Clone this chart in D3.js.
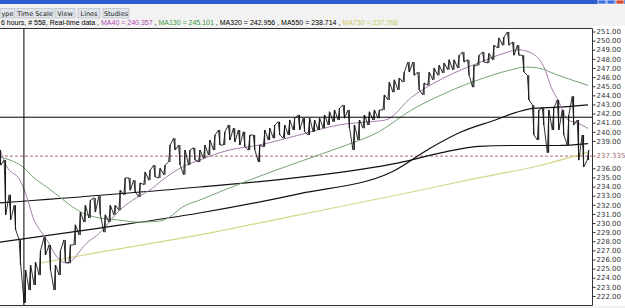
<!DOCTYPE html>
<html>
<head>
<meta charset="utf-8">
<script src="https://cdn.jsdelivr.net/npm/d3@7"></script>
<style>
  body { margin: 0; background: #fff; }
  svg { display: block; font-family: "DejaVu Sans", sans-serif; }
</style>
</head>
<body>
<div id="chart"></div>
<script>
// price bars, one sample every 5px of chart width (high / low)
const hi = [238.0, 236.9, 233.1, 231.95, 228.15, 224.85, 225.4, 225.7, 227.0, 228.45,
  227.6, 225.4, 227.0, 228.15, 227.6, 229.8, 231.2, 231.95, 232.5, 232.75,
  232.95, 230.9, 231.95, 231.95, 233.6, 234.95, 234.95, 234.7, 234.4, 235.6,
  235.8, 236.35, 236.0, 236.35, 238.55, 239.3, 238.55, 238.0, 238.0, 238.25,
  238.0, 238.55, 239.1, 239.65, 240.2, 240.0, 240.75, 240.4, 240.2, 240.0,
  239.65, 239.65, 238.55, 240.2, 240.4, 240.75, 241.1, 240.75, 241.3, 241.5,
  241.85, 241.5, 241.5, 241.3, 241.5, 241.85, 242.2, 242.4, 242.6, 242.95,
  242.4, 240.75, 241.3, 241.85, 242.2, 242.4, 242.4, 244.05, 245.45, 245.7,
  245.9, 246.55, 247.65, 247.65, 246.55, 245.35, 246.55, 247.0, 247.3, 247.55,
  247.9, 247.9, 248.4, 248.75, 247.9, 247.3, 248.4, 248.75, 248.6, 249.5,
  250.3, 250.4, 250.95, 249.85, 249.5, 248.4, 246.2, 242.95, 242.4, 242.6,
  242.4, 242.6, 243.5, 242.4, 241.85, 243.9, 241.3, 239.65, 238.0]
const lo = [236.35, 230.9, 230.35, 229.25, 225.4, 221.25, 222.65, 223.2, 224.3, 226.5,
  224.85, 222.65, 224.3, 225.7, 225.6, 227.6, 228.7, 230.1, 230.55, 231.2,
  230.9, 229.0, 230.1, 230.9, 231.4, 233.1, 233.6, 233.4, 232.85, 234.2,
  234.7, 235.05, 234.95, 235.3, 236.7, 238.0, 236.35, 235.3, 236.35, 236.9,
  236.7, 237.1, 237.45, 238.0, 238.55, 238.55, 239.1, 238.9, 238.55, 238.35,
  238.0, 238.0, 236.7, 238.35, 239.1, 239.3, 239.65, 239.3, 239.65, 240.2,
  240.2, 240.0, 239.65, 240.0, 240.2, 240.4, 240.75, 241.1, 241.3, 241.5,
  240.4, 238.0, 239.1, 240.4, 240.75, 241.3, 241.5, 242.4, 243.5, 244.35,
  244.6, 245.45, 246.55, 246.2, 244.6, 244.05, 245.1, 245.7, 246.2, 246.45,
  246.8, 246.8, 247.0, 247.65, 246.2, 244.9, 247.3, 247.65, 247.55, 247.9,
  249.2, 249.5, 249.5, 248.4, 248.4, 246.55, 243.5, 239.65, 239.1, 240.75,
  237.7, 240.2, 240.2, 239.65, 238.55, 240.75, 236.9, 236.15, 236.9]

// moving averages: position in bar samples, value
const ma40T = [0, 1.4, 4, 5.6, 6.6, 8, 9.4, 11.4, 13.4, 17.4, 20, 24, 26.6, 30, 33.4, 36.6, 40, 46, 52, 60, 68, 74, 77.4, 82.6, 89.4, 96, 101.4, 104, 106.6, 109.4, 110.6, 112, 114, 116, 118]
const ma40V = [238.0, 236.15, 234.7, 232.5, 230.65, 229.25, 228.15, 226.3, 225.6, 227.8, 228.9, 231.4, 232.5, 233.6, 235.05, 236.15, 236.9, 238.0, 238.55, 239.65, 240.75, 241.1, 241.3, 243.8, 246.0, 247.55, 248.65, 249.0, 248.65, 246.8, 244.9, 243.5, 241.3, 240.95, 240.36]
const ma130T = [0, 2, 4.6, 6.6, 9.4, 12, 14.6, 16.6, 20, 23.4, 28, 32, 34, 36.6, 40, 50, 60, 68, 76, 82.6, 89.4, 96, 102.6, 105.4, 108, 112, 118]
const ma130V = [237.25, 236.9, 236.15, 235.05, 233.95, 232.85, 231.75, 231.1, 230.55, 230.35, 230.1, 230.2, 230.65, 231.75, 232.5, 234.7, 236.7, 238.25, 240.0, 242.4, 244.25, 245.7, 246.8, 247.1, 247.0, 246.2, 245.1]
const ma320T = [0, 20, 40, 60, 78.6, 86, 92.6, 99.4, 104, 107.4, 112, 118]
const ma320V = [227.9, 229.45, 231.1, 233.2, 235.6, 238.1, 240.0, 241.3, 242.2, 242.6, 242.7, 242.95]
const ma550T = [0, 40, 60, 80, 89.4, 96, 102.6, 112, 118]
const ma550V = [232.2, 233.95, 235.0, 236.6, 237.8, 238.4, 238.5, 238.5, 238.71]
const ma730T = [8, 20, 40, 60, 80, 96, 108, 118]
const ma730V = [225.6, 226.8, 228.7, 230.9, 233.1, 234.95, 236.25, 237.77]

const yTicks = d3.range(222, 252).filter(v => v !== 237 && v !== 238)
const lastPrice = 237.335
const crossT = 4.8
const crossV = 241.6
const menuTabs = ['ype', 'Time Scale', 'View', 'Lines', 'Studies']
const menuX = [0, 17, 55, 78, 103]
const menuW = [15, 36, 20, 22, 26]
const infoParts = [
  ['6 hours, # 558, Real-time data , ', '#000'],
  ['MA40 = 240.357', '#b048b0'],
  [' , ', '#000'],
  ['MA130 = 245.101', '#3a9a3a'],
  [' , ', '#000'],
  ['MA320 = 242.956', '#000'],
  [' , ', '#000'],
  ['MA550 = 238.714', '#000'],
  [' , ', '#000'],
  ['MA730 = 237.768', '#c8c860']
]

const width = 625, height = 308
const plotLeft = 0, plotRight = 592, plotTop = 28, plotBottom = 305

const svg = d3.select('#chart').append('svg')
  .attr('width', width).attr('height', height)

// window chrome
svg.append('rect').attr('x', 0).attr('y', 0).attr('width', width).attr('height', height).attr('fill', '#f2f2f2')
svg.append('rect').attr('x', 0).attr('y', 0).attr('width', width).attr('height', 4).attr('fill', '#2b5dcc')
;[['#3b6ee0', 598], ['#3b6ee0', 607], ['#d9482b', 616]].forEach(([c, x]) => {
  svg.append('rect').attr('x', x).attr('y', 0).attr('width', 8).attr('height', 4)
    .attr('fill', c).attr('stroke', '#fff').attr('stroke-width', 0.7)
})

const tabs = svg.append('g')
menuTabs.forEach((t, i) => {
  tabs.append('rect').attr('x', menuX[i]).attr('y', 8.5).attr('width', menuW[i]).attr('height', 9.5)
    .attr('fill', '#dfe3ea').attr('stroke', '#b8bcc4').attr('stroke-width', 0.7)
  tabs.append('text').attr('x', menuX[i] + menuW[i] / 2).attr('y', 15.8)
    .attr('text-anchor', 'middle').attr('font-size', 6.5).attr('fill', '#222').text(t)
})

// status line, one text with coloured pieces
const info = svg.append('text').attr('x', 1).attr('y', 25)
  .attr('font-family', '"Liberation Sans", Arial, sans-serif').attr('font-size', 7)
  .style('white-space', 'pre')
infoParts.forEach(([t, c]) => info.append('tspan').attr('fill', c).text(t))

// plot area
svg.append('rect').attr('x', plotLeft - 1).attr('y', plotTop).attr('width', plotRight - plotLeft + 1)
  .attr('height', plotBottom - plotTop).attr('fill', '#fff')
svg.append('rect').attr('x', plotRight + 0.5).attr('y', plotTop - 2).attr('width', width - plotRight)
  .attr('height', plotBottom - plotTop + 3).attr('fill', '#fff')

const x = d3.scaleLinear().domain([0, 118]).range([0, 588])
const y = d3.scaleLinear().domain([221, 251]).range([305.1, 31.5])

const plot = svg.append('g')
plot.append('clipPath').attr('id', 'clip').append('rect')
  .attr('x', plotLeft).attr('y', plotTop).attr('width', plotRight - plotLeft).attr('height', plotBottom - plotTop)
const g = plot.append('g').attr('clip-path', 'url(#clip)')

// current price dashed line
g.append('line').attr('x1', plotLeft).attr('x2', plotRight)
  .attr('y1', y(lastPrice)).attr('y2', y(lastPrice))
  .attr('stroke', '#a06a6a').attr('stroke-width', 1).attr('stroke-dasharray', '3,2')

const maLine = d3.line().x(d => x(d[0])).y(d => y(d[1])).curve(d3.curveMonotoneX)
const mas = [
  [ma730T, ma730V, '#d6d68a', 1.2],
  [ma550T, ma550V, '#111', 1.2],
  [ma320T, ma320V, '#111', 1.2],
  [ma130T, ma130V, '#76a476', 1],
  [ma40T, ma40V, '#a27ea8', 1]
]
mas.forEach(([t, v, c, w]) => {
  g.append('path').datum(t.map((d, i) => [d, v[i]]))
    .attr('d', maLine).attr('fill', 'none').attr('stroke', c).attr('stroke-width', w)
})

// price bars: visit low/high of each sample in the direction of travel
const mid = hi.map((h, i) => (h + lo[i]) / 2)
const pts = []
hi.forEach((h, i) => {
  const up = i < hi.length - 1 ? mid[i + 1] >= mid[i] : true
  const a = up ? lo[i] : h, b = up ? h : lo[i]
  pts.push([x(i) - 0.8, y(a)]); pts.push([x(i) + 0.8, y(b)])
})
g.append('path').attr('d', d3.line()(pts)).attr('fill', 'none').attr('stroke', '#1a1a1a')
  .attr('stroke-width', 0.9).attr('stroke-linejoin', 'round')
g.selectAll('line.bar').data(hi).join('line').attr('class', 'bar')
  .attr('x1', (d, i) => x(i) + 0.5).attr('x2', (d, i) => x(i) + 0.5)
  .attr('y1', d => y(d)).attr('y2', (d, i) => y(lo[i]))
  .attr('stroke', '#1a1a1a').attr('stroke-width', 1.1)

// crosshair
g.append('line').attr('x1', x(crossT)).attr('x2', x(crossT)).attr('y1', plotTop).attr('y2', plotBottom)
  .attr('stroke', '#000').attr('stroke-width', 1)
g.append('line').attr('x1', plotLeft).attr('x2', plotRight).attr('y1', y(crossV)).attr('y2', y(crossV))
  .attr('stroke', '#000').attr('stroke-width', 1)

// frame
svg.append('path').attr('d', `M${plotLeft},${plotTop + 0.5}H${plotRight + 0.5}V${plotBottom + 0.5}H${plotLeft}`)
  .attr('fill', 'none').attr('stroke', '#333').attr('stroke-width', 1)

// right axis
const axis = d3.axisRight(y).tickValues(yTicks).tickSize(3).tickFormat(d3.format('.2f'))
const ax = svg.append('g').attr('transform', `translate(${plotRight + 0.5},0)`).call(axis)
ax.select('.domain').remove()
ax.selectAll('text').attr('font-size', 7).attr('font-family', 'DejaVu Sans').attr('fill', '#333').attr('x', 4)
ax.selectAll('line').attr('stroke', '#333')

svg.append('line').attr('x1', plotRight + 0.5).attr('x2', plotRight + 3.5)
  .attr('y1', y(lastPrice)).attr('y2', y(lastPrice)).attr('stroke', '#a06a6a')
svg.append('text').attr('x', plotRight + 4.5).attr('y', y(lastPrice)).attr('dy', '0.32em')
  .attr('font-size', 7).attr('fill', '#a06a6a').text(lastPrice.toFixed(3))
</script>
</body>
</html>
